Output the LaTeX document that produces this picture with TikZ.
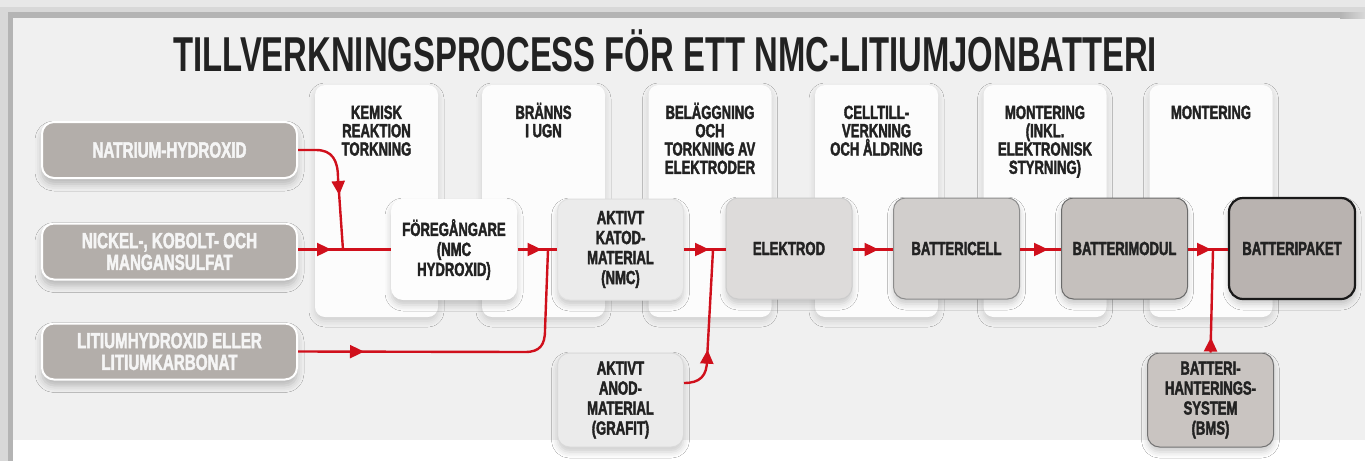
\documentclass[tikz,border=0pt]{standalone}
\usepackage{fontspec}
\setmainfont{Liberation Sans}[FakeStretch=0.67]
\newfontfamily\dglab{Liberation Sans}[FakeStretch=0.69, FakeBold=2]
\usetikzlibrary{arrows.meta,decorations.markings,shadows.blur}
\definecolor{bgmain}{HTML}{F0F0F0}
\definecolor{topa}{HTML}{E8E8E8}
\definecolor{topb}{HTML}{D8D8D8}
\definecolor{topc}{HTML}{B4B4B4}
\definecolor{rd}{HTML}{D0101C}
\definecolor{txt}{HTML}{222222}
\definecolor{colfill}{HTML}{FCFCFC}
\definecolor{infill}{HTML}{B3AEAA}
\definecolor{fF}{HTML}{FDFDFD}
\definecolor{fK}{HTML}{EBEBEB}
\definecolor{fE}{HTML}{DDDBDA}
\definecolor{fC}{HTML}{D1CECC}
\definecolor{fM}{HTML}{C5C0BD}
\definecolor{fP}{HTML}{B9B3B0}
\definecolor{fB}{HTML}{C9C4C1}
\newcommand\dgTitle{\bfseries\fontsize{49}{49}\selectfont}
\newcommand\dgCol{\dglab\bfseries\fontsize{19}{18.3}\selectfont}
\newcommand\dgBox{\dglab\bfseries\fontsize{19}{20}\selectfont}
\newcommand\dgIn{\dglab\bfseries\fontsize{22}{21.7}\selectfont}
\newcommand\dgS{\vphantom{ÅÄ}}
\tikzset{
  colbox/.style={rounded corners=10pt, fill=colfill, minimum width=123pt, minimum height=232pt, inner sep=0pt,
    blur shadow={shadow xshift=0pt, shadow yshift=-4pt, shadow blur radius=6pt, shadow opacity=14}},
  collabel/.style={anchor=north, align=center, inner sep=0pt, font=\dgCol, text=txt},
  inbox/.style={rounded corners=12pt, fill=infill, draw=white, line width=2pt, minimum width=255pt, minimum height=56pt,
    inner sep=0pt, align=center, font=\dgIn, text=white!96!black,
    blur shadow={shadow xshift=0pt, shadow yshift=-6pt, shadow blur radius=7pt, shadow opacity=24}},
  pbox/.style={rounded corners=12pt, minimum width=126pt, minimum height=101pt, inner sep=0pt, align=center,
    font=\dgBox, text=txt, line width=1pt,
    blur shadow={shadow xshift=0pt, shadow yshift=-5pt, shadow blur radius=6pt, shadow opacity=20}},
  flow/.style={draw=rd, line width=2.4pt},
  tipat/.style={postaction={decorate, decoration={markings, mark=at position #1 with {\arrow{Triangle[length=14pt,width=13pt]}}}}}
}
\begin{document}
\begin{tikzpicture}[x=1pt,y=-1pt]
\useasboundingbox (0,0) rectangle (1365,461);
% background
\fill[white] (0,0) rectangle (1365,461);
\fill[bgmain] (13,18) rectangle (1365,440);
\fill[topa] (0,0) rectangle (1365,7);
\fill[topb] (0,7) rectangle (1365,12);
\fill[topc] (8,12) rectangle (1340,18);
\shade[left color=topc, right color=topb] (1340,12) rectangle (1365,18);
\fill[topb] (0,7) rectangle (8,461);
\fill[topc] (8,12) rectangle (13,461);

% title
\node[anchor=base, inner sep=0pt, font=\dgTitle, text=txt] (title) at (665,71) {TILLVERKNINGSPROCESS FÖR ETT NMC-LITIUMJONBATTERI};

% stage columns
\node[colbox] (s1) at (376.5,201) {};
\node[colbox] (s2) at (543.5,201) {};
\node[colbox] (s3) at (710,201) {};
\node[colbox] (s4) at (876.5,201) {};
\node[colbox] (s5) at (1045,201) {};
\node[colbox] (s6) at (1211,201) {};
\node[collabel] (l1) at (376.5,102) {\dgS KEMISK\\REAKTION\\TORKNING};
\node[collabel] (l2) at (543.5,102) {\dgS BRÄNNS\\I UGN};
\node[collabel] (l3) at (710,102) {\dgS BELÄGGNING\\OCH\\TORKNING AV\\ELEKTRODER};
\node[collabel] (l4) at (876.5,102) {\dgS CELLTILL-\\VERKNING\\OCH ÅLDRING};
\node[collabel] (l5) at (1045,102) {\dgS MONTERING\\(INKL.\\ELEKTRONISK\\STYRNING)};
\node[collabel] (l6) at (1211,102) {\dgS MONTERING};

% inputs
\node[inbox] (a1) at (169.5,150) {NATRIUM-HYDROXID};
\node[inbox] (a2) at (169.5,251.5) {NICKEL-, KOBOLT- OCH\\MANGANSULFAT};
\node[inbox] (a3) at (169.5,351.5) {LITIUMHYDROXID ELLER\\LITIUMKARBONAT};

% process boxes
\node[pbox, fill=fF] (f) at (454,249.5) {FÖREGÅNGARE\\(NMC\\HYDROXID)};
\node[pbox, fill=fK, draw=black!12] (k) at (620.5,249.5) {AKTIVT\\KATOD-\\MATERIAL\\(NMC)};
\node[pbox, fill=fE, draw=black!20] (e) at (789,248.5) {ELEKTROD};
\node[pbox, fill=fC, draw=black!45] (c) at (956.5,248.5) {BATTERICELL};
\node[pbox, fill=fM, draw=black!58] (m) at (1124.5,248.5) {BATTERIMODUL};
\node[pbox, fill=fP, draw=black!90, line width=2.2pt, rounded corners=14pt] (p) at (1292,248.5) {BATTERIPAKET};
\node[pbox, fill=fK, draw=black!15, minimum height=94pt] (an) at (620.5,400) {AKTIVT\\ANOD-\\MATERIAL\\(GRAFIT)};
\node[pbox, fill=fB, draw=black!55, minimum height=94pt] (bms) at (1210.5,400) {BATTERI-\\HANTERINGS-\\SYSTEM\\(BMS)};

% junctions
\coordinate (j1) at (343,250);
\coordinate (j2) at (548,250);
\coordinate (j3) at (713,250);
\coordinate (j4) at (1213,250);

% connectors
\draw[flow, tipat=76pt] (a1.east) -- (316,150) .. controls (332,150) and (338,160) .. (338,178) -- (j1);
\draw[flow, tipat=33pt] (a2.east |- f.west) -- (f.west);
\draw[flow, tipat=24pt] (f.east) -- (k.west);
\draw[flow, tipat=66pt] (a3.east) -- (525,352) .. controls (540,352) and (545,345) .. (545,330) -- (j2);
\draw[flow, tipat=25pt] (k.east) -- (e.west |- k.east);
\draw[flow, tipat=48pt] ([yshift=17pt]an.east) .. controls (700,383) and (707,376) .. (707,360) -- (j3);
\draw[flow, tipat=26pt] (e.east |- f.east) -- (c.west |- f.east);
\draw[flow, tipat=28pt] (c.east |- f.east) -- (m.west |- f.east);
\draw[flow, tipat=23pt] (m.east |- f.east) -- (p.west |- f.east);
\draw[flow, tipat=15pt] (bms.north) -- (j4);
\end{tikzpicture}
\end{document}
